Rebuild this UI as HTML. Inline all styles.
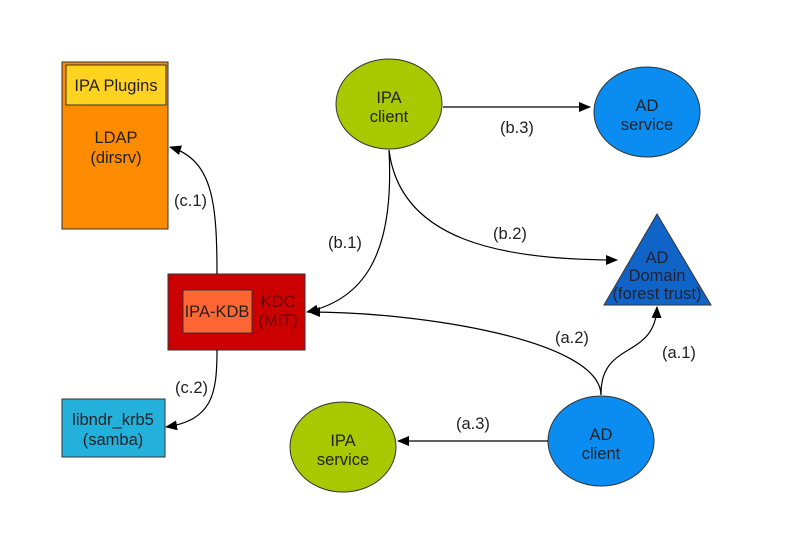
<!DOCTYPE html>
<html><head><style>body{margin:0;background:#fff}svg{display:block}text{font-family:"Liberation Sans",sans-serif;font-size:16.5px;fill:#222}</style></head><body>
<svg width="794" height="559" viewBox="0 0 794 559" xmlns="http://www.w3.org/2000/svg">
<defs><marker id="a" markerWidth="12" markerHeight="10" refX="11" refY="5" orient="auto" markerUnits="userSpaceOnUse"><path d="M0,0L12,5L0,10z" fill="#000"/></marker></defs>
<rect x="62" y="62" width="106" height="167" fill="#ff8c00" stroke="#333"/>
<rect x="66" y="65" width="100" height="40" fill="#ffd320" stroke="#333"/>
<text x="116" y="91" text-anchor="middle">IPA Plugins</text>
<text x="116" y="143" text-anchor="middle">LDAP</text>
<text x="116" y="163" text-anchor="middle">(dirsrv)</text>
<rect x="168" y="274" width="137" height="76" fill="#cc0000" stroke="#333"/>
<rect x="183" y="290" width="69" height="43" fill="#ff6633" stroke="#333"/>
<text x="217" y="317" text-anchor="middle">IPA-KDB</text>
<text x="278" y="307" text-anchor="middle" style="fill:#600">KDC</text>
<text x="278" y="326" text-anchor="middle" style="fill:#600">(MIT)</text>
<rect x="62" y="399" width="103" height="58" fill="#23b0db" stroke="#333"/>
<text x="113" y="425" text-anchor="middle">libndr_krb5</text>
<text x="113" y="445" text-anchor="middle">(samba)</text>
<ellipse cx="389" cy="104" rx="53" ry="45" fill="#a8c800" stroke="#333"/>
<text x="389" y="103" text-anchor="middle">IPA</text><text x="389" y="122" text-anchor="middle">client</text>
<ellipse cx="647" cy="112" rx="53" ry="45" fill="#0a8cf0" stroke="#333"/>
<text x="647" y="111" text-anchor="middle">AD</text><text x="647" y="130" text-anchor="middle">service</text>
<ellipse cx="601" cy="441" rx="53" ry="45" fill="#0a8cf0" stroke="#333"/>
<text x="601" y="440" text-anchor="middle">AD</text><text x="601" y="459" text-anchor="middle">client</text>
<ellipse cx="343" cy="447" rx="53" ry="45" fill="#a8c800" stroke="#333"/>
<text x="343" y="446" text-anchor="middle">IPA</text><text x="343" y="465" text-anchor="middle">service</text>
<polygon points="657,214 604,305 711,305" fill="#1064c8" stroke="#333"/>
<text x="657" y="263" text-anchor="middle" style="fill:#223">AD</text>
<text x="657" y="281" text-anchor="middle" style="fill:#223">Domain</text>
<text x="657" y="299" text-anchor="middle" style="fill:#223">(forest trust)</text>
<g fill="none" stroke="#000" stroke-width="1.2">
<path d="M443,107L590,107" marker-end="url(#a)"/>
<path d="M389,150C395,260 360,300 307,312" marker-end="url(#a)"/>
<path d="M389,150C400,240 500,260 617,260" marker-end="url(#a)"/>
<path d="M601,395C600,340 420,312 309,312" marker-end="url(#a)"/>
<path d="M601,395C600,340 655,360 657,307" marker-end="url(#a)"/>
<path d="M548,441L398,441" marker-end="url(#a)"/>
<path d="M217,274C217,200 212,160 170,147" marker-end="url(#a)"/>
<path d="M217,350C217,395 212,420 166,427" marker-end="url(#a)"/>
</g>
<text x="500" y="133">(b.3)</text>
<text x="328" y="248">(b.1)</text>
<text x="493" y="239">(b.2)</text>
<text x="555" y="343">(a.2)</text>
<text x="662" y="358">(a.1)</text>
<text x="456" y="429">(a.3)</text>
<text x="174" y="206">(c.1)</text>
<text x="175" y="393">(c.2)</text>
</svg></body></html>
